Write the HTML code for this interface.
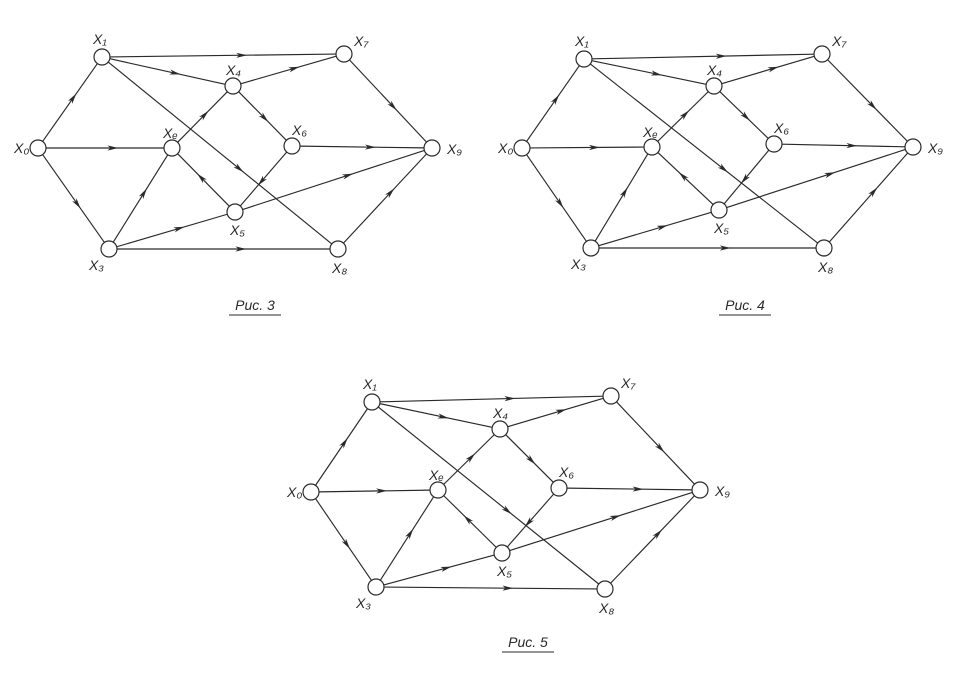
<!DOCTYPE html>
<html><head><meta charset="utf-8">
<style>
html,body{margin:0;padding:0;background:#fff;}
svg{display:block;}
text{font-family:"Liberation Sans",sans-serif;font-style:italic;fill:#2a2a2a;}
</style></head>
<body>
<svg id="s" width="972" height="680" viewBox="0 0 972 680"></svg>
<script>
const nodeNames=["x0","x1","x2","x3","x4","x5","x6","x7","x8","x9"];
const labelText=["X₀","X₁","Xₑ","X₃","X₄","X₅","X₆","X₇","X₈","X₉"];
const graph3X=[38,102,172,109,233,235,292,344,338,432];
const graph3Y=[148,57,148,249,86,212,146,54,249,148];
const graph4X=[522,584,652,591,714,719,774,822,824,913];
const graph4Y=[148,59,147,248,86,210,144,54,248,147];
const graph5X=[311,372,438,376,500,502,559,611,605,700];
const graph5Y=[492,402,490,587,429,553,488,396,589,490];
const edgeFrom=[0,0,0,1,1,1,4,4,2,3,3,3,5,6,6,5,7,8];
const edgeTo  =[1,2,3,7,4,8,7,6,4,2,5,8,2,5,9,9,9,9];
const captions=["Рис. 3","Рис. 4","Рис. 5"];
const captionX=[255,745,528];
const captionY=[310,310,647];
const labelDX=[-24,-9,-9,-20,-7,-5,0,10,-6,15];
const labelDY=[5,-13,-10,21,-11,23,-11,-8,24,6];
const NS="http://www.w3.org/2000/svg";
const svg=document.getElementById('s');
function mk(tag,attrs){const e=document.createElementNS(NS,tag);for(const k in attrs)e.setAttribute(k,attrs[k]);svg.appendChild(e);return e;}
const R=8;
function drawGraph(gi,X,Y){
  for(let i=0;i<edgeFrom.length;i++){
    const a=edgeFrom[i],b=edgeTo[i];
    const x1=X[a],y1=Y[a],x2=X[b],y2=Y[b];
    const dx=x2-x1,dy=y2-y1,L=Math.hypot(dx,dy),ux=dx/L,uy=dy/L;
    const l=mk('line',{x1:x1+ux*R,y1:y1+uy*R,x2:x2-ux*R,y2:y2-uy*R,stroke:'#2a2a2a','stroke-width':1.15});
    
    
    const t=0.6,px=x1+dx*t,py=y1+dy*t;
    const bx=px-ux*11,by=py-uy*11,nx=-uy*2.6,ny=ux*2.6;
    const p=mk('polygon',{points:`${px},${py} ${bx+nx},${by+ny} ${bx+ux*3},${by+uy*3} ${bx-nx},${by-ny}`,fill:'#2a2a2a'});
    
    
  }
  for(let i=0;i<X.length;i++){
    const c=mk('circle',{cx:X[i],cy:Y[i],r:R,fill:'#fff',stroke:'#2a2a2a','stroke-width':1.2});
    
    
    const tx=mk('text',{x:X[i]+labelDX[i],y:Y[i]+labelDY[i],'font-size':14});
    tx.textContent=labelText[i];
    
    
  }
  const cap=mk('text',{x:captionX[gi],y:captionY[gi],'font-size':14,'text-anchor':'middle'});
  cap.textContent=captions[gi];
  
  
  const u=mk('line',{x1:captionX[gi]-26,y1:captionY[gi]+5,x2:captionX[gi]+26,y2:captionY[gi]+5,stroke:'#2a2a2a','stroke-width':1});
  
  
}
drawGraph(0,graph3X,graph3Y);
drawGraph(1,graph4X,graph4Y);
drawGraph(2,graph5X,graph5Y);
</script>
</body></html>
